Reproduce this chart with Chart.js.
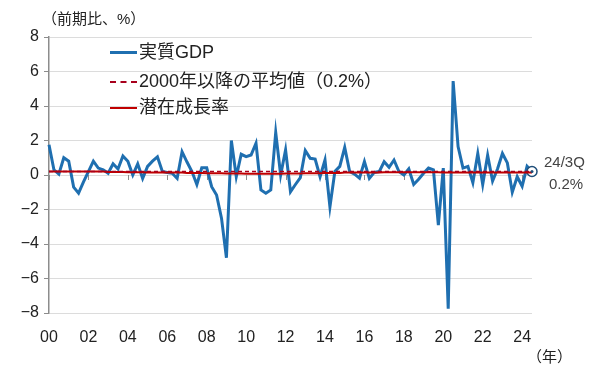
<!DOCTYPE html>
<html>
<head>
<meta charset="utf-8">
<script src="https://cdn.jsdelivr.net/npm/chart.js@4"></script>
<style>
body { margin: 0; background: #fff; }
#wrap { position: relative; width: 600px; height: 375px; font-family: 'Liberation Sans', 'Noto Sans CJK JP', sans-serif; color: #222; }
#gdp_chart { position: absolute; left: 0; top: 0; }
.t { position: absolute; white-space: nowrap; line-height: 1; }
.key { position: absolute; width: 27px; height: 0; }
</style>
</head>
<body>
<div id="wrap">
  <canvas id="gdp_chart" width="600" height="375"></canvas>
  <div class="t" style="left:42px;top:11px;font-size:15px;">（前期比、%）</div>
  <div class="key" style="left:110px;top:51px;border-top:3px solid #1f6fb0;"></div>
  <div class="t" style="left:139px;top:43px;font-size:18px;">実質GDP</div>
  <div class="key" style="left:110px;top:81px;border-top:2px dashed #a8001c;"></div>
  <div class="t" style="left:139px;top:72px;font-size:18px;">2000年以降の平均値（0.2%）</div>
  <div class="key" style="left:110px;top:107px;border-top:2px solid #c00000;"></div>
  <div class="t" style="left:139px;top:98px;font-size:18px;">潜在成長率</div>
  <div class="t" style="left:544px;top:154px;font-size:15px;color:#444;">24/3Q</div>
  <div class="t" style="left:549px;top:176px;font-size:15px;color:#444;">0.2%</div>
  <div class="t" style="left:527px;top:349px;font-size:15px;">（年）</div>
</div>
<script>
// quarterly labels 2000Q1 .. 2024Q3
var labels = [];
for (var yr = 2000; yr <= 2024; yr++) {
    for (var q = 1; q <= 4; q++) {
        if (yr == 2024 && q > 3) break;
        labels.push(yr + "Q" + q);
    }
}

// real GDP, q/q %
var gdp = [
    1.75, 0.3, 0.05, 1.0,  0.8, -0.7, -1.05, -0.4,
    0.2, 0.8, 0.4, 0.3,    0.1, 0.65, 0.35, 1.1,
    0.8, 0.0, 0.65, -0.2,  0.5, 0.8, 1.05, 0.2,
    0.15, 0.1, -0.2, 1.35, 0.75, 0.2, -0.55, 0.42,
    0.42, -0.68, -1.16, -2.5, -4.8, 2.0, -0.1, 1.2,
    1.06, 1.16, 1.84, -0.87, -1.06, -0.87, 2.47, 0.0,
    1.45, -0.97, -0.55, -0.15, 1.42, 0.97, 0.92, -0.1,
    0.87, -1.85, 0.2, 0.5,  1.6, 0.2, 0.05, -0.18,
    0.78, -0.2, 0.15, 0.2,  0.77, 0.45, 0.87, 0.2,
    0.0, 0.35, -0.55, -0.25, 0.1, 0.4, 0.3, -2.9,
    0.4, -7.75, 5.45, 1.65, 0.4, 0.5, -0.45, 1.25,
    -0.55, 1.15, -0.35, 0.35, 1.25, 0.7, -1.0, -0.1,
    -0.65, 0.5, 0.2
];

// potential growth, q/q %
var potential = [
    0.2, 0.2, 0.2, 0.2,   0.2, 0.2, 0.2, 0.2,
    0.2, 0.2, 0.2, 0.2,   0.18, 0.18, 0.18, 0.18,
    0.16, 0.16, 0.16, 0.16, 0.15, 0.15, 0.15, 0.15,
    0.14, 0.14, 0.14, 0.14, 0.12, 0.12, 0.12, 0.12,
    0.1, 0.1, 0.1, 0.1,   0.08, 0.08, 0.08, 0.08,
    0.07, 0.07, 0.07, 0.07, 0.07, 0.07, 0.07, 0.07,
    0.08, 0.08, 0.08, 0.08, 0.1, 0.1, 0.1, 0.1,
    0.12, 0.12, 0.12, 0.12, 0.14, 0.14, 0.14, 0.14,
    0.15, 0.15, 0.15, 0.15, 0.16, 0.16, 0.16, 0.16,
    0.16, 0.16, 0.16, 0.16, 0.16, 0.16, 0.16, 0.16,
    0.15, 0.15, 0.15, 0.15, 0.15, 0.15, 0.15, 0.15,
    0.15, 0.15, 0.15, 0.15, 0.15, 0.15, 0.15, 0.15,
    0.15, 0.15, 0.15
];

var avgValue = 0.2;
var yTicks = [-8, -6, -4, -2, 0, 2, 4, 6, 8];

var extras = {
    id: 'extras',
    beforeDatasetsDraw: function(chart) {
        var ctx = chart.ctx, x = chart.scales.x, y = chart.scales.y;
        var y0 = y.getPixelForValue(0);
        ctx.save();
        ctx.strokeStyle = '#8c8c8c';
        ctx.lineWidth = 1;
        for (var i = 0; i < labels.length; i += 8) {
            var px = Math.round(x.getPixelForValue(i)) + 0.5;
            ctx.beginPath(); ctx.moveTo(px, y0); ctx.lineTo(px, y0 + 5); ctx.stroke();
        }
        ctx.restore();
    },
    afterDatasetsDraw: function(chart) {
        var ctx = chart.ctx, a = chart.chartArea, y = chart.scales.y;
        var py = y.getPixelForValue(avgValue);
        ctx.save();
        ctx.strokeStyle = '#a8001c';
        ctx.lineWidth = 1.6;
        ctx.setLineDash([4, 3]);
        ctx.beginPath(); ctx.moveTo(a.left, py); ctx.lineTo(a.right, py); ctx.stroke();
        ctx.setLineDash([]);
        // dot inside last marker
        var pts = chart.getDatasetMeta(1).data;
        var p = pts[pts.length - 1];
        ctx.fillStyle = '#1f4e79';
        ctx.beginPath(); ctx.arc(p.x, p.y, 1.5, 0, Math.PI * 2); ctx.fill();
        ctx.restore();
    }
};

var ctx = document.getElementById('gdp_chart');
var chart = new Chart(ctx, {
    type: 'line',
    data: {
        labels: labels,
        datasets: [
            { label: "潜在成長率", data: potential, borderColor: '#c00000', borderWidth: 2,
              pointRadius: 0, tension: 0, order: 0 },
            { label: "実質GDP", data: gdp, borderColor: '#1f6fb0', borderWidth: 3,
              pointRadius: function(c) { return c.dataIndex == gdp.length - 1 ? 5 : 0; },
              pointBackgroundColor: '#fff', pointBorderColor: '#1f4e79', pointBorderWidth: 1.5,
              tension: 0, order: 1 }
        ]
    },
    options: {
        responsive: false,
        animation: false,
        layout: { padding: { top: 37, right: 68, left: 0, bottom: 0 } },
        plugins: { legend: { display: false }, tooltip: { enabled: false } },
        scales: {
            x: {
                offset: false,
                grid: { display: false, drawTicks: false },
                border: { display: false },
                afterFit: function(s) { s.height = 62; },
                ticks: {
                    autoSkip: false, maxRotation: 0, padding: 15,
                    color: '#222', font: { size: 16, family: "'Liberation Sans', sans-serif" },
                    callback: function(v, i) { return i % 8 == 0 ? labels[i].slice(2, 4) : ''; }
                }
            },
            y: {
                min: -8, max: 8,
                afterFit: function(s) { s.width = 49; },
                afterBuildTicks: function(s) { s.ticks = yTicks.map(function(v) { return { value: v }; }); },
                grid: { color: '#dcdcdc', lineWidth: 1, tickLength: 5, tickColor: '#8c8c8c' },
                border: { color: '#8c8c8c', width: 1.5 },
                ticks: {
                    padding: 5, color: '#222', font: { size: 16, family: "'Liberation Sans', sans-serif" },
                    callback: function(v) { return String(v).replace('-', '\u2212'); }
                }
            }
        }
    },
    plugins: [extras]
});
</script>
</body>
</html>
